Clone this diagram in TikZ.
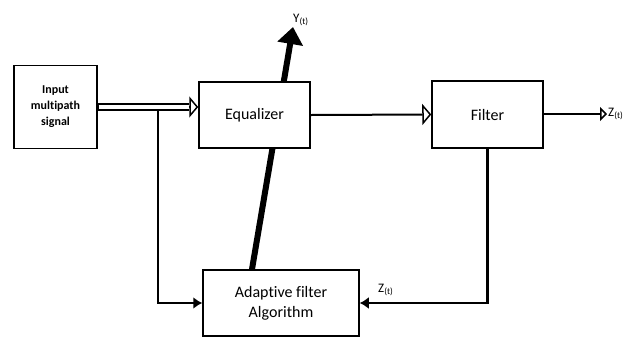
\documentclass[tikz,border=0pt]{standalone}
\usepackage{fontspec}
\setmainfont{Carlito}[Ligatures=NoCommon]
\usetikzlibrary{arrows.meta,calc}
\begin{document}
\begin{tikzpicture}[x=1pt,y=-1pt,
  block/.style={draw, line width=1.5pt, fill=white, align=center, inner sep=0pt},
  link/.style={line width=2pt},
  feed/.style={line width=2.4pt, -{Latex[length=9pt,width=12pt]}},
  openhead/.style={-{Triangle[length=9pt,width=21pt,fill=white,line width=1.5pt]}},
  smallhead/.style={-{Triangle[length=7pt,width=14pt,fill=white,line width=1.5pt]}},
  sig/.style={font=\fontsize{13}{14}\selectfont, inner sep=1pt}
]
\useasboundingbox (0,0) rectangle (634,338);

% Thick output path Y(t), drawn first so the equalizer box hides its middle
\coordinate (ytip) at (293,27);
\node[block, minimum width=156pt, minimum height=66pt, font=\fontsize{16}{20}\selectfont]
  (ad) at (281,303) {Adaptive filter\\Algorithm};
\draw[line width=6pt, -{Triangle[length=17pt,width=25pt]}]
  ($(ad.north)+(-29,0)$) -- (ytip);
\node[sig, anchor=south west] at (292,27) {Y\textsubscript{(t)}};

% Blocks
\node[block, minimum width=83pt, minimum height=83pt, font=\bfseries\fontsize{12}{16}\selectfont]
  (inp) at (55.5,107) {Input\\multipath\\signal};
\node[block, minimum width=111pt, minimum height=66pt, font=\fontsize{16}{20}\selectfont]
  (eq) at (254.5,115) {Equalizer};
\node[block, minimum width=111pt, minimum height=67pt, font=\fontsize{16}{20}\selectfont]
  (fi) at (487.5,114.5) {Filter};

% Double input arrow into the equalizer
\coordinate (eqin) at (eq.west |- inp.east);
\draw[line width=8pt, shorten >=9pt] (inp.east) -- (eqin);
\draw[white, line width=4pt, shorten >=8pt, shorten <=0.8pt] (inp.east) -- (eqin);
\draw[line width=1.5pt, openhead] ($(eqin)+(-9.5,0)$) -- (eqin);

% Branch from the input line down to the adaptive algorithm
\coordinate (br) at (158,111);
\draw[feed] (br) |- (ad.west);

% Equalizer to filter
\draw[link, openhead] (eq.east) -- (fi.west);

% Filter output
\coordinate (zout) at (607,114);
\draw[link, smallhead] (fi.east |- zout) -- (zout);
\node[sig, anchor=west] at (zout) {Z\textsubscript{(t)}};

% Feedback from the filter into the adaptive algorithm
\draw[feed] (fi.south) |- (ad.east);
\node[sig, anchor=south west] at (377,297) {Z\textsubscript{(t)}};
\end{tikzpicture}
\end{document}
